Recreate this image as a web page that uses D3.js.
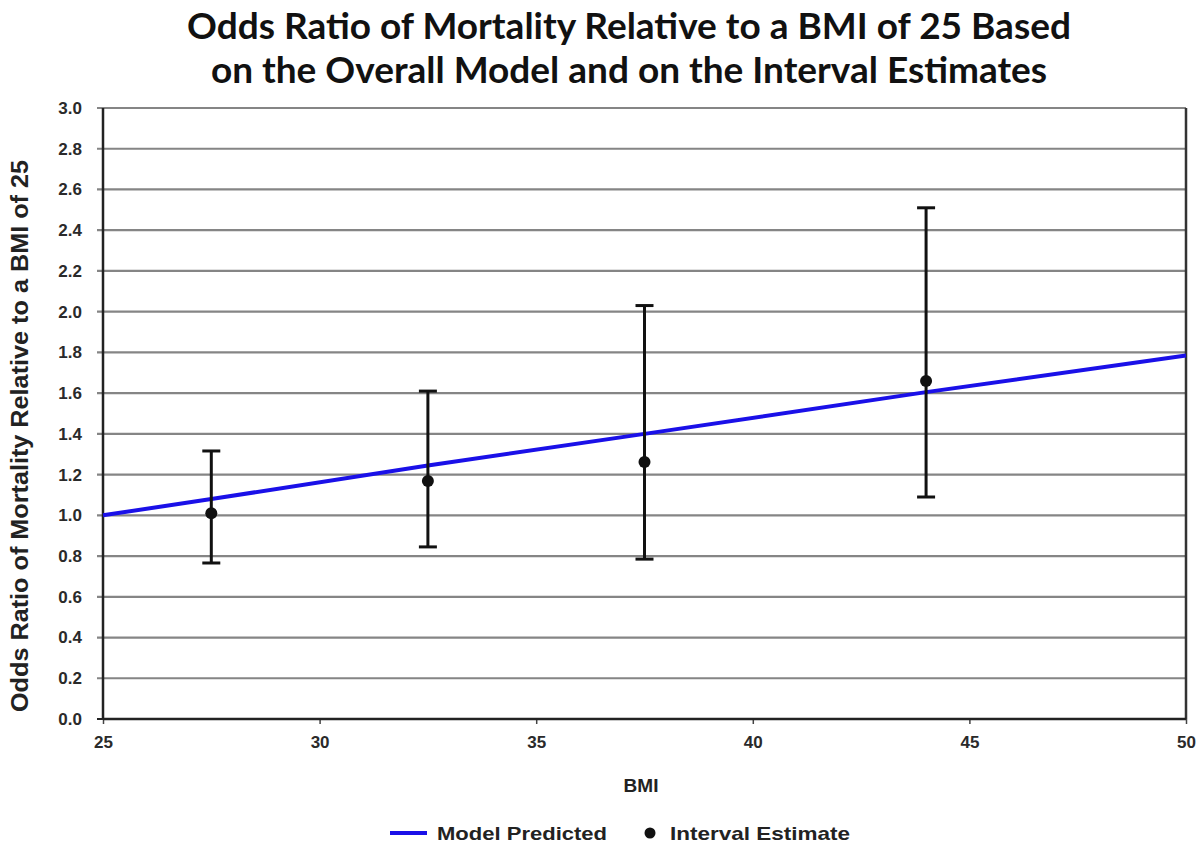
<!DOCTYPE html>
<html><head><meta charset="utf-8">
<script src="https://cdn.jsdelivr.net/npm/d3@7"></script>
<style>body{margin:0;background:#fff}</style>
</head><body>
<svg id="c" width="1200" height="846"></svg>
<script>
const titleLines = ["Odds Ratio of Mortality Relative to a BMI of 25 Based","on the Overall Model and on the Interval Estimates"];
const xTicks = [25,30,35,40,45,50];
const yTicks = [0,0.2,0.4,0.6,0.8,1.0,1.2,1.4,1.6,1.8,2.0,2.2,2.4,2.6,2.8,3.0];
const modelBMI = [25,27.5,32.5,37.5,44,50];
const modelOR = [1.0,1.08,1.245,1.40,1.605,1.785];
const estBMI = [27.5,32.5,37.5,44];
const estOR = [1.01,1.168,1.262,1.66];
const estLow = [0.766,0.845,0.785,1.09];
const estHigh = [1.316,1.61,2.03,2.51];

const svg = d3.select("#c");
const L=103,R=1186,T=108,B=719;
const x = d3.scaleLinear().domain([25,50]).range([L,R]);
const y = d3.scaleLinear().domain([0,3]).range([B,T]);
const arial = "'Liberation Sans', Arial, sans-serif";

// title
svg.selectAll(".title").data(titleLines).enter().append("text")
  .attr("x",629).attr("y",(d,i)=>39+i*44).attr("text-anchor","middle")
  .style("font-family","Lato, 'Open Sans', sans-serif").style("font-weight","bold").style("font-size","37px")
  .attr("fill","#111").text(d=>d);

// gridlines
svg.append("g").selectAll("line").data(yTicks).enter().append("line")
  .attr("x1",L-6).attr("x2",R).attr("y1",d=>y(d)).attr("y2",d=>y(d))
  .attr("stroke",d=>d===0?"#222":"#858585").attr("stroke-width",2.2);

// y axis
const yAxis = svg.append("g").attr("transform",`translate(${L},0)`)
  .call(d3.axisLeft(y).tickValues(yTicks).tickFormat(d3.format(".1f")).tickSize(0).tickPadding(21));
yAxis.select(".domain").remove();
yAxis.selectAll("text").style("font-family",arial).style("font-weight","bold").style("font-size","17px").attr("fill","#2a2a2a");

// x axis
const xAxis = svg.append("g").attr("transform",`translate(0,${B})`)
  .call(d3.axisBottom(x).tickValues(xTicks).tickSize(5).tickPadding(12));
xAxis.select(".domain").remove();
xAxis.selectAll("line").attr("stroke","#444").attr("stroke-width",1.5);
xAxis.selectAll("text").style("font-family",arial).style("font-weight","bold").style("font-size","17px").attr("fill","#2a2a2a");

// plot frame
svg.append("line").attr("x1",L).attr("x2",L).attr("y1",T).attr("y2",B).attr("stroke","#222").attr("stroke-width",2.5);
svg.append("line").attr("x1",R).attr("x2",R).attr("y1",T).attr("y2",B).attr("stroke","#333").attr("stroke-width",2.5);
svg.append("line").attr("x1",L).attr("x2",R).attr("y1",B).attr("y2",B).attr("stroke","#222").attr("stroke-width",2.5);

// model line
svg.append("path").datum(modelBMI.map((b,i)=>[b,modelOR[i]]))
  .attr("d",d3.line().x(d=>x(d[0])).y(d=>y(d[1])))
  .attr("fill","none").attr("stroke","#1a10e8").attr("stroke-width",4);

// error bars
const est = estBMI.map((b,i)=>({b,or:estOR[i],lo:estLow[i],hi:estHigh[i]}));
const eg = svg.append("g");
eg.selectAll(".v").data(est).enter().append("line")
  .attr("x1",d=>x(d.b)).attr("x2",d=>x(d.b)).attr("y1",d=>y(d.lo)).attr("y2",d=>y(d.hi))
  .attr("stroke","#111").attr("stroke-width",3);
eg.selectAll(".ch").data(est).enter().append("line")
  .attr("x1",d=>x(d.b)-9).attr("x2",d=>x(d.b)+9).attr("y1",d=>y(d.hi)).attr("y2",d=>y(d.hi))
  .attr("stroke","#111").attr("stroke-width",3);
eg.selectAll(".cl").data(est).enter().append("line")
  .attr("x1",d=>x(d.b)-9).attr("x2",d=>x(d.b)+9).attr("y1",d=>y(d.lo)).attr("y2",d=>y(d.lo))
  .attr("stroke","#111").attr("stroke-width",3);
eg.selectAll("circle").data(est).enter().append("circle")
  .attr("cx",d=>x(d.b)).attr("cy",d=>y(d.or)).attr("r",6).attr("fill","#111");

// axis titles
svg.append("text").attr("x",641).attr("y",792).attr("text-anchor","middle")
  .style("font-family",arial).style("font-weight","bold").style("font-size","19px").attr("fill","#222").text("BMI");
svg.append("text").attr("transform","translate(28,436) rotate(-90)").attr("text-anchor","middle")
  .attr("textLength",552).attr("lengthAdjust","spacingAndGlyphs")
  .style("font-family",arial).style("font-weight","bold").style("font-size","24px").attr("fill","#222")
  .text("Odds Ratio of Mortality Relative to a BMI of 25");

// legend
const lg = svg.append("g");
lg.append("line").attr("x1",390).attr("x2",427).attr("y1",833).attr("y2",833).attr("stroke","#1a10e8").attr("stroke-width",4);
lg.append("text").attr("x",437).attr("y",840).attr("textLength",170).attr("lengthAdjust","spacingAndGlyphs")
  .style("font-family",arial).style("font-weight","bold").style("font-size","19px").attr("fill","#222").text("Model Predicted");
lg.append("circle").attr("cx",650).attr("cy",833).attr("r",5.5).attr("fill","#111");
lg.append("text").attr("x",670).attr("y",840).attr("textLength",180).attr("lengthAdjust","spacingAndGlyphs")
  .style("font-family",arial).style("font-weight","bold").style("font-size","19px").attr("fill","#222").text("Interval Estimate");
</script>
</body></html>
